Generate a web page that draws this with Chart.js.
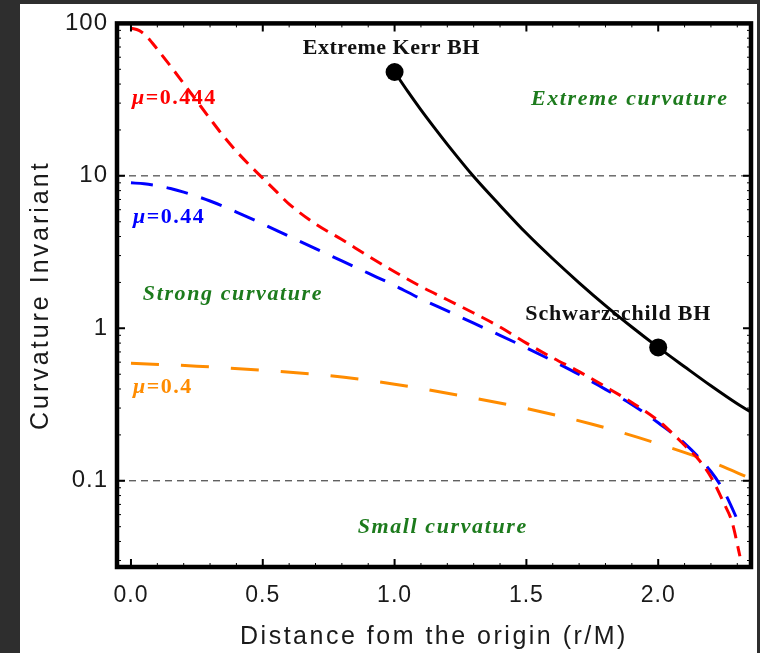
<!DOCTYPE html>
<html>
<head>
<meta charset="utf-8">
<script src="https://cdn.jsdelivr.net/npm/chart.js@4.4.1/dist/chart.umd.min.js"></script>
<style>
  html, body { margin: 0; padding: 0; background: #2e2e2e; }
  #panel { position: absolute; left: 20px; top: 4px; width: 737px; height: 649px; background: #fff; }
  #wrap { position: absolute; left: 0; top: 0; width: 760px; height: 653px; }
</style>
</head>
<body>
<div id="panel"></div>
<div id="wrap"><canvas id="chart" width="760" height="653"></canvas></div>
<script>
// curvature invariant vs r/M
const redR = [0, 0.03, 0.06, 0.1, 0.15, 0.2, 0.25, 0.3, 0.35, 0.4, 0.45, 0.5, 0.55, 0.6, 0.7, 0.8, 0.9, 1.0, 1.1, 1.2, 1.3, 1.4, 1.5, 1.6, 1.7, 1.8, 1.9, 2.0, 2.05, 2.1, 2.15, 2.2, 2.25, 2.28, 2.31];
const redK = [93, 90, 82, 67.6, 52.5, 40.3, 30.9, 23.7, 18.3, 14.5, 11.75, 9.66, 7.94, 6.53, 4.84, 3.82, 2.98, 2.35, 1.88, 1.54, 1.26, 1.02, 0.80, 0.64, 0.52, 0.414, 0.326, 0.248, 0.208, 0.171, 0.14, 0.106, 0.0708, 0.0537, 0.032];

const blueR = [0, 0.05, 0.1, 0.15, 0.2, 0.3, 0.4, 0.5, 0.6, 0.7, 0.8, 0.9, 1.0, 1.1, 1.2, 1.3, 1.4, 1.5, 1.6, 1.7, 1.8, 1.9, 2.0, 2.1, 2.2, 2.25, 2.31];
const blueK = [9.0, 8.87, 8.61, 8.26, 7.82, 6.84, 5.79, 4.84, 4.01, 3.33, 2.77, 2.3, 1.91, 1.56, 1.3, 1.08, 0.9, 0.745, 0.612, 0.498, 0.398, 0.317, 0.24, 0.176, 0.115, 0.085, 0.051];

const orangeR = [0, 0.25, 0.5, 0.75, 1.0, 1.25, 1.5, 1.75, 2.0, 2.2, 2.36];
const orangeK = [0.59, 0.565, 0.53, 0.49, 0.43, 0.362, 0.298, 0.235, 0.175, 0.133, 0.102];

const bhCurveR = [1.0, 1.05, 1.1, 1.15, 1.2, 1.3, 1.4, 1.5, 1.6, 1.7, 1.8, 1.9, 2.0, 2.1, 2.2, 2.3, 2.36];
const bhCurveK = [48, 35.8, 27.1, 20.8, 16.1, 9.9, 6.4, 4.2, 2.86, 1.99, 1.41, 1.02, 0.75, 0.56, 0.42, 0.32, 0.276];

const bhR = [1.0, 2.0];   // extreme Kerr, Schwarzschild
const bhK = [48, 0.75];

const xTicks = [0, 0.5, 1.0, 1.5, 2.0];
const yTicks = [0.1, 1, 10, 100];
const refLevels = [10, 0.1];

const xMin = -0.053, xMax = 2.352, yMin = 0.0272, yMax = 100;

const green = '#1d7b1d';
const notes = [
  { text: 'Extreme Kerr BH', r: 0.652, k: 63.3, color: '#111', font: 'bold', sp: 0.5 },
  { text: 'Extreme curvature', r: 1.517, k: 29.0, color: green, font: 'italic bold', sp: 1.6 },
  { text: 'Strong curvature', r: 0.045, k: 1.54, color: green, font: 'italic bold', sp: 1.6 },
  { text: 'Schwarzschild BH', r: 1.496, k: 1.14, color: '#111', font: 'bold', sp: 0.8 },
  { text: 'Small curvature', r: 0.860, k: 0.0454, color: green, font: 'italic bold', sp: 1.6 }
];
const muLabels = [
  { value: '0.444', r: 0.004, k: 29.5, color: '#ff0000' },
  { value: '0.44', r: 0.008, k: 4.88, color: '#0000ff' },
  { value: '0.4', r: 0.008, k: 0.376, color: '#ff8c00' }
];

const pts = (xs, ys) => xs.map((x, i) => ({ x: x, y: ys[i] }));

const textPlugin = {
  id: 'notes',
  beforeDraw(chart) {
    chart.ctx.letterSpacing = '1px';
  },
  beforeDatasetsDraw(chart) {
    const { ctx, scales } = chart;
    ctx.save();
    ctx.textBaseline = 'alphabetic';
    ctx.textAlign = 'left';
    notes.forEach(n => {
      ctx.font = n.font + ' 22px "Liberation Serif"';
      ctx.letterSpacing = n.sp + 'px';
      ctx.fillStyle = n.color;
      ctx.fillText(n.text, scales.x.getPixelForValue(n.r), scales.y.getPixelForValue(n.k));
    });
    muLabels.forEach(m => {
      let x = scales.x.getPixelForValue(m.r);
      const y = scales.y.getPixelForValue(m.k);
      ctx.fillStyle = m.color;
      ctx.letterSpacing = '1.5px';
      ctx.font = 'italic bold 22px "Liberation Serif"';
      ctx.fillText('\u03bc', x, y);
      x += ctx.measureText('\u03bc').width;
      ctx.font = 'bold 22px "Liberation Serif"';
      ctx.fillText('=' + m.value, x, y);
    });
    ctx.restore();
  },
  afterDraw(chart) {
    const { ctx, chartArea: a, scales } = chart;
    ctx.save();
    // inward tick marks
    ctx.strokeStyle = '#000';
    for (let i = 0; i <= 23; i++) {
      const v = i / 10;
      const px = scales.x.getPixelForValue(v);
      const major = i % 5 === 0;
      const len = major ? 8 : 4;
      ctx.lineWidth = major ? 2 : 1;
      ctx.beginPath();
      ctx.moveTo(px, a.bottom); ctx.lineTo(px, a.bottom - len);
      ctx.moveTo(px, a.top); ctx.lineTo(px, a.top + len);
      ctx.stroke();
    }
    for (let e = -2; e <= 2; e++) {
      for (let m = 1; m <= 9; m++) {
        const v = m * Math.pow(10, e);
        if (v < yMin || v > yMax) continue;
        const py = scales.y.getPixelForValue(v);
        const major = m === 1;
        const len = major ? 8 : 4;
        ctx.lineWidth = major ? 2 : 1;
        ctx.beginPath();
        ctx.moveTo(a.left, py); ctx.lineTo(a.left + len, py);
        ctx.moveTo(a.right, py); ctx.lineTo(a.right - len, py);
        ctx.stroke();
      }
    }
    // frame
    ctx.lineWidth = 4.5;
    ctx.strokeRect(a.left, a.top, a.right - a.left, a.bottom - a.top);

    // axis titles
    ctx.fillStyle = '#1a1a1a';
    ctx.font = '25px "Liberation Sans"';
    ctx.letterSpacing = '2.5px';
    ctx.textAlign = 'center';
    ctx.textBaseline = 'alphabetic';
    ctx.fillText('Distance fom the origin (r/M)', (a.left + a.right) / 2, 644);
    ctx.translate(48, (a.top + a.bottom) / 2);
    ctx.rotate(-Math.PI / 2);
    ctx.letterSpacing = '3px';
    ctx.fillText('Curvature Invariant', 0, 0);
    ctx.restore();
  }
};

new Chart(document.getElementById('chart'), {
  type: 'scatter',
  data: {
    datasets: [
      { data: pts(bhR, bhK), showLine: false, pointRadius: 9, pointBackgroundColor: '#000', pointBorderWidth: 0 },
      { data: pts(bhCurveR, bhCurveK), showLine: true, borderColor: '#000', borderWidth: 3, pointRadius: 0, cubicInterpolationMode: 'monotone' },
      { data: pts(redR, redK), showLine: true, borderColor: '#ff0000', borderWidth: 3, borderDash: [13, 8], pointRadius: 0, cubicInterpolationMode: 'monotone' },
      { data: pts(blueR, blueK), showLine: true, borderColor: '#0000ff', borderWidth: 3, borderDash: [22, 14], pointRadius: 0, cubicInterpolationMode: 'monotone' },
      { data: pts(orangeR, orangeK), showLine: true, borderColor: '#ff8c00', borderWidth: 3, borderDash: [28, 22], pointRadius: 0, cubicInterpolationMode: 'monotone' },
      ...refLevels.map(lv => ({
        data: [{ x: xMin, y: lv }, { x: xMax, y: lv }],
        showLine: true, borderColor: '#222', borderWidth: 1, borderDash: [7, 5], pointRadius: 0
      }))
    ]
  },
  options: {
    responsive: false,
    animation: false,
    layout: { padding: { top: 19, right: 8, left: 0, bottom: 0 } },
    plugins: { legend: { display: false }, tooltip: { enabled: false } },
    scales: {
      x: {
        type: 'linear', min: xMin, max: xMax,
        afterBuildTicks: s => { s.ticks = xTicks.map(v => ({ value: v })); },
        afterFit: s => { s.height = 86; },
        grid: { display: false, drawTicks: false },
        border: { display: false },
        ticks: {
          color: '#1a1a1a', padding: 15, maxRotation: 0, autoSkip: false,
          font: { family: 'Liberation Sans', size: 23 },
          callback: v => v.toFixed(1)
        }
      },
      y: {
        type: 'logarithmic', min: yMin, max: yMax,
        afterBuildTicks: s => { s.ticks = yTicks.map(v => ({ value: v })); },
        afterFit: s => { s.width = 117; },
        grid: { display: false, drawTicks: false },
        border: { display: false },
        ticks: {
          color: '#1a1a1a', padding: 9, autoSkip: false,
          font: { family: 'Liberation Sans', size: 24 },
          callback: v => String(v)
        }
      }
    }
  },
  plugins: [textPlugin]
});
</script>
</body>
</html>
